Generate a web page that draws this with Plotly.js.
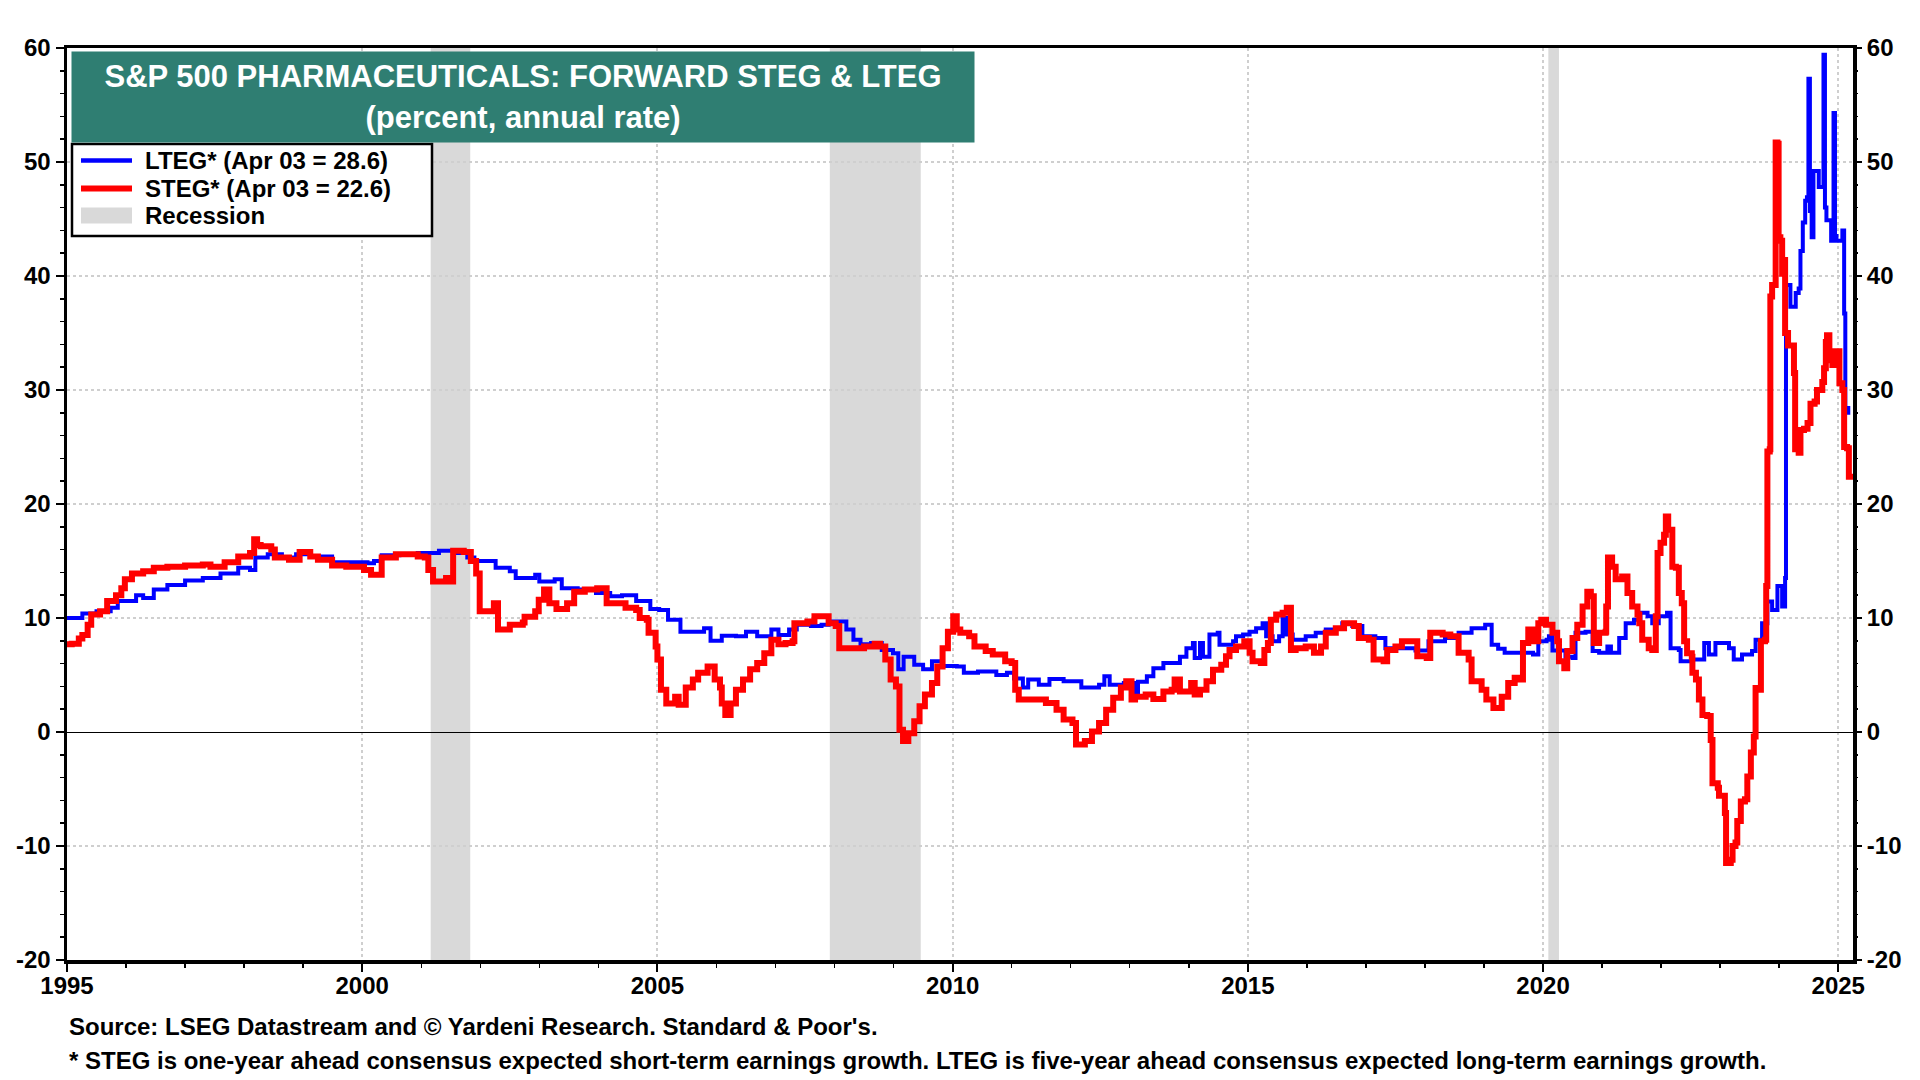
<!DOCTYPE html>
<html>
<head>
<meta charset="utf-8">
<script src="https://cdn.plot.ly/plotly-3.0.1.min.js"></script>
<style>html,body{margin:0;padding:0;background:#fff;}#chart{width:1920px;height:1080px;}</style>
</head>
<body>
<div id="chart"></div>
<script>
// ---------------- DATA ----------------
const ltegX = [1995.0,1995.08,1995.26,1995.5,1995.74,1995.86,1996.17,1996.29,1996.47,1996.7,1997.0,1997.3,1997.6,1997.9,1998.1,1998.19,1998.4,1998.64,1998.88,1999.12,1999.49,1999.73,2000.09,2000.2,2000.33,2000.63,2000.94,2001.3,2001.54,2001.78,2001.9,2002.14,2002.26,2002.5,2002.6,2002.93,2003.0,2003.26,2003.38,2003.65,2003.96,2004.2,2004.4,2004.64,2004.88,2005.03,2005.18,2005.39,2005.6,2005.79,2005.9,2006.09,2006.33,2006.5,2006.69,2006.93,2007.05,2007.23,2007.36,2007.6,2007.78,2007.9,2008.02,2008.2,2008.32,2008.44,2008.62,2008.8,2008.99,2009.08,2009.17,2009.35,2009.5,2009.65,2009.83,2010.07,2010.19,2010.43,2010.74,2010.92,2011.04,2011.19,2011.28,2011.46,2011.64,2011.88,2012.18,2012.48,2012.57,2012.66,2012.9,2013.08,2013.14,2013.29,2013.4,2013.57,2013.79,2013.85,2013.96,2014.07,2014.1,2014.19,2014.24,2014.35,2014.49,2014.52,2014.75,2014.8,2014.92,2015.03,2015.14,2015.25,2015.31,2015.42,2015.53,2015.59,2015.65,2015.76,2015.98,2016.15,2016.32,2016.49,2016.6,2016.77,2016.94,2017.16,2017.33,2017.61,2017.84,2018.06,2018.34,2018.57,2018.79,2019.02,2019.13,2019.24,2019.35,2019.58,2019.83,2019.92,2020.06,2020.1,2020.16,2020.38,2020.5,2020.55,2020.72,2020.84,2020.95,2021.09,2021.15,2021.29,2021.4,2021.54,2021.65,2021.77,2021.85,2021.96,2022.1,2022.16,2022.3,2022.33,2022.53,2022.67,2022.73,2022.81,2022.92,2023.15,2023.23,2023.37,2023.54,2023.6,2023.71,2023.8,2023.88,2023.97,2024.05,2024.1,2024.115,2024.19,2024.28,2024.33,2024.36,2024.4,2024.44,2024.47,2024.495,2024.52,2024.55,2024.58,2024.6,2024.67,2024.75,2024.775,2024.8,2024.88,2024.92,2024.945,2024.97,2025.07,2025.1,2025.12,2025.17,2025.25];
const ltegY = [10.0,10.0,10.4,10.6,10.9,11.5,12.0,11.75,12.5,12.9,13.3,13.5,13.9,14.4,14.2,15.3,15.6,15.3,15.6,15.4,14.9,14.9,14.8,15.0,15.5,15.6,15.7,15.9,15.7,15.3,15.0,15.0,14.4,14.1,13.5,13.8,13.2,13.4,12.6,12.5,12.2,11.9,12.0,11.5,10.8,10.7,9.85,8.8,8.8,9.1,8.0,8.45,8.4,8.8,8.4,9.0,8.5,9.0,9.4,9.3,9.4,9.7,9.7,9.0,8.1,7.7,7.8,7.2,6.9,5.5,6.6,5.9,5.5,6.2,5.8,5.75,5.2,5.3,5.0,5.2,4.7,3.9,4.6,4.15,4.65,4.45,3.9,4.15,4.9,4.15,4.3,3.4,4.4,4.9,5.6,6.05,6.05,6.6,7.35,7.8,6.5,7.8,6.6,8.55,8.7,7.65,7.95,8.4,8.55,8.8,9.1,9.55,8.4,7.95,8.4,10.0,8.55,8.1,8.4,8.7,9.0,9.1,9.55,9.3,8.4,8.25,7.35,7.35,7.15,7.95,8.25,8.7,9.1,9.4,7.65,7.3,6.95,6.95,6.8,7.95,8.1,8.4,7.15,6.6,6.5,8.7,8.8,7.1,6.95,7.5,6.95,8.25,9.55,9.85,10.45,10.15,9.55,10.15,10.45,7.35,7.2,6.2,6.35,6.35,7.8,6.8,7.8,7.35,6.35,6.8,7.1,8.1,9.55,11.45,10.7,12.8,11.0,13.5,39.2,37.3,38.5,38.9,42.2,44.7,46.6,46.9,57.3,45.7,43.4,49.2,49.2,47.8,59.4,46.0,44.9,43.1,54.3,43.5,43.1,44.0,36.7,28.0,28.6];

const stegX = [1995.0,1995.08,1995.2,1995.26,1995.35,1995.41,1995.56,1995.68,1995.83,1995.92,1995.98,1996.1,1996.29,1996.47,1996.7,1997.0,1997.3,1997.43,1997.67,1997.9,1998.1,1998.17,1998.22,1998.28,1998.46,1998.52,1998.76,1998.94,1999.12,1999.25,1999.49,1999.73,2000.03,2000.15,2000.3,2000.33,2000.57,2000.94,2001.06,2001.12,2001.2,2001.42,2001.52,2001.54,2001.72,2001.84,2001.93,2001.99,2002.2,2002.23,2002.3,2002.5,2002.72,2002.75,2002.93,2002.99,2003.08,2003.17,2003.29,2003.47,2003.59,2003.77,2003.98,2004.14,2004.4,2004.46,2004.64,2004.7,2004.82,2004.85,2004.97,2005.0,2005.06,2005.15,2005.3,2005.36,2005.48,2005.6,2005.69,2005.85,2005.9,2005.97,2006.06,2006.09,2006.15,2006.24,2006.33,2006.45,2006.57,2006.69,2006.81,2006.93,2007.05,2007.17,2007.29,2007.32,2007.54,2007.66,2007.78,2007.9,2008.02,2008.08,2008.26,2008.5,2008.68,2008.77,2008.86,2008.95,2009.04,2009.1,2009.16,2009.25,2009.35,2009.44,2009.53,2009.65,2009.74,2009.83,2009.92,2010.01,2010.07,2010.13,2010.28,2010.37,2010.56,2010.68,2010.8,2010.89,2011.0,2011.06,2011.12,2011.4,2011.58,2011.76,2011.88,2012.03,2012.09,2012.24,2012.36,2012.48,2012.6,2012.72,2012.85,2012.94,2013.03,2013.09,2013.27,2013.4,2013.57,2013.71,2013.76,2013.85,2014.04,2014.1,2014.19,2014.3,2014.41,2014.55,2014.63,2014.69,2014.8,2014.94,2015.03,2015.08,2015.22,2015.28,2015.34,2015.39,2015.48,2015.59,2015.66,2015.73,2015.81,2015.98,2016.12,2016.24,2016.32,2016.49,2016.63,2016.8,2016.88,2017.05,2017.13,2017.3,2017.36,2017.5,2017.61,2017.81,2017.87,2018.03,2018.09,2018.3,2018.43,2018.57,2018.74,2018.79,2018.96,2019.04,2019.16,2019.3,2019.41,2019.52,2019.61,2019.66,2019.75,2019.83,2019.92,2019.97,2020.05,2020.16,2020.24,2020.27,2020.36,2020.41,2020.5,2020.58,2020.67,2020.75,2020.81,2020.86,2020.95,2021.06,2021.07,2021.1,2021.17,2021.23,2021.34,2021.43,2021.51,2021.6,2021.63,2021.68,2021.79,2021.85,2021.91,2021.94,2021.99,2022.05,2022.08,2022.12,2022.16,2022.19,2022.25,2022.3,2022.35,2022.39,2022.44,2022.52,2022.53,2022.59,2022.64,2022.7,2022.78,2022.84,2022.87,2022.96,2022.98,2023.05,2023.08,2023.1,2023.18,2023.21,2023.26,2023.29,2023.35,2023.42,2023.46,2023.52,2023.57,2023.6,2023.66,2023.69,2023.76,2023.78,2023.8,2023.84,2023.85,2023.88,2023.93,2023.94,2023.97,2023.99,2024.02,2024.05,2024.08,2024.1,2024.15,2024.21,2024.25,2024.27,2024.33,2024.36,2024.42,2024.48,2024.53,2024.6,2024.64,2024.73,2024.76,2024.79,2024.81,2024.85,2024.9,2024.95,2025.0,2025.02,2025.07,2025.1,2025.15,2025.18,2025.25];
const stegY = [7.7,7.75,8.2,8.5,9.4,10.3,10.6,11.5,12.0,12.6,13.4,13.9,14.1,14.4,14.5,14.6,14.7,14.5,14.9,15.4,15.7,16.9,16.4,16.3,16.0,15.3,15.1,15.8,15.4,15.1,14.6,14.5,14.2,13.8,13.8,15.3,15.6,15.4,15.3,14.2,13.2,13.5,13.2,15.9,15.8,15.0,13.9,10.6,10.6,11.3,9.0,9.4,9.6,10.1,10.6,11.6,12.5,11.3,10.8,11.3,12.3,12.5,12.6,11.3,11.3,10.9,10.7,10.0,9.85,8.7,7.5,6.35,3.7,2.5,3.1,2.4,3.9,4.6,5.2,5.75,5.75,4.6,3.9,2.5,1.5,2.5,3.7,4.6,5.5,6.05,6.9,8.1,7.7,7.8,7.95,9.55,9.7,10.15,10.15,9.55,9.3,7.35,7.35,7.5,7.75,7.5,6.35,4.6,4.0,0.2,-0.8,-0.1,0.95,2.25,3.3,4.3,5.75,7.35,8.8,10.15,9.0,8.7,8.4,7.5,7.1,6.8,6.8,6.2,6.05,3.7,2.85,2.85,2.55,1.95,1.1,0.8,-1.1,-0.8,0.05,0.8,1.95,3.0,3.9,4.45,2.85,3.1,3.3,2.9,3.55,3.7,4.6,3.55,4.3,3.3,3.7,4.45,5.45,5.9,6.65,7.2,7.5,7.95,6.95,6.2,6.05,7.2,7.8,9.85,10.3,10.45,10.9,7.2,7.35,7.5,6.95,7.5,8.7,9.1,9.55,9.3,8.25,8.1,6.35,6.2,7.2,7.5,7.95,7.95,6.65,6.5,8.7,8.55,8.4,6.95,6.35,4.45,3.7,2.85,2.1,3.1,4.3,4.75,4.6,7.8,9.0,7.95,9.55,9.85,9.4,8.7,7.95,6.2,5.6,7.1,8.25,9.4,11.0,12.3,11.9,7.8,8.7,8.8,11.0,15.3,14.5,13.4,13.65,12.2,11.0,10.3,9.55,8.1,7.35,7.2,10.15,15.7,16.6,17.3,18.9,17.75,17.75,14.5,14.4,12.2,11.3,7.95,6.9,6.6,5.2,4.6,2.85,1.5,1.4,-0.7,-4.5,-4.9,-5.6,-5.6,-7.1,-11.5,-11.2,-10.0,-9.7,-7.8,-6.1,-5.9,-3.9,-1.8,-0.4,3.85,3.7,7.95,8.1,12.8,24.6,24.8,38.2,39.2,39.2,51.7,51.6,43.4,43.1,40.2,41.4,35.0,33.9,33.9,31.5,24.8,24.5,26.5,26.6,27.1,28.8,29.0,30.0,30.7,31.9,34.2,34.8,32.6,32.2,33.4,33.4,30.6,30.0,25.0,24.9,22.4,22.6];

const recessionStart = [2001.16, 2007.92, 2020.09];
const recessionEnd   = [2001.83, 2009.46, 2020.27];

const xTickVals = [1995, 2000, 2005, 2010, 2015, 2020, 2025];
const xTickText = ['1995', '2000', '2005', '2010', '2015', '2020', '2025'];
const yTickVals = [-20, -10, 0, 10, 20, 30, 40, 50, 60];
const yTickText = ['-20', '-10', '0', '10', '20', '30', '40', '50', '60'];

const seriesNames = ['LTEG* (Apr 03 = 28.6)', 'STEG* (Apr 03 = 22.6)', 'Recession'];
const titleText = 'S&P 500 PHARMACEUTICALS: FORWARD STEG & LTEG<br>(percent, annual rate)';
const footLine1 = 'Source: LSEG Datastream and © Yardeni Research. Standard & Poor\'s.';
const footLine2 = '* STEG is one-year ahead consensus expected short-term earnings growth. LTEG is five-year ahead consensus expected long-term earnings growth.';

// ---------------- CHART ----------------
const FONT = 'Liberation Sans, Arial, Helvetica, sans-serif';
const W = 1920, H = 1080;
const M = {l: 67, r: 67, t: 48, b: 120};
const PW = W - M.l - M.r, PH = H - M.t - M.b;
const px = v => (v - M.l) / PW;          // pixel x -> paper
const py = v => 1 - (v - M.t) / PH;      // pixel y -> paper

const BLUE = '#0000FF', RED = '#FF0000', GREY = '#D9D9D9';

const traces = [
  {x: ltegX, y: ltegY, type: 'scatter', mode: 'lines', name: seriesNames[0],
   line: {color: BLUE, width: 4, shape: 'hv'}, showlegend: false},
  {x: stegX, y: stegY, type: 'scatter', mode: 'lines', name: seriesNames[1],
   line: {color: RED, width: 6, shape: 'hv'}, showlegend: false},
  {x: [1995], y: [0], yaxis: 'y2', type: 'scatter', mode: 'markers',
   marker: {opacity: 0}, showlegend: false, hoverinfo: 'skip'}
];

const shapes = recessionStart.map((s, i) => ({
  type: 'rect', xref: 'x', yref: 'paper', x0: s, x1: recessionEnd[i], y0: 0, y1: 1,
  fillcolor: GREY, line: {width: 0}, layer: 'below'
}));

// legend (box, swatches) in pixel positions
const legBox = {x0: 72, x1: 432, y0: 144, y1: 236};
const rowY = [160.5, 188.5, 215.5];
const swX0 = 81, swX1 = 132, textX = 143;
shapes.push({type: 'rect', xref: 'paper', yref: 'paper', x0: px(legBox.x0), x1: px(legBox.x1),
  y0: py(legBox.y1), y1: py(legBox.y0), fillcolor: '#FFFFFF', line: {color: '#000', width: 2.5}, layer: 'above'});
shapes.push({type: 'line', xref: 'paper', yref: 'paper', x0: px(swX0), x1: px(swX1), y0: py(rowY[0]), y1: py(rowY[0]),
  line: {color: BLUE, width: 4.5}, layer: 'above'});
shapes.push({type: 'line', xref: 'paper', yref: 'paper', x0: px(swX0), x1: px(swX1), y0: py(rowY[1]), y1: py(rowY[1]),
  line: {color: RED, width: 6}, layer: 'above'});
shapes.push({type: 'rect', xref: 'paper', yref: 'paper', x0: px(swX0), x1: px(swX1), y0: py(rowY[2] + 8), y1: py(rowY[2] - 8),
  fillcolor: GREY, line: {width: 0}, layer: 'above'});

const tickFont = {family: FONT, size: 24, color: '#000', weight: 'bold'};
const yCommon = {
  range: [-20, 60], tickmode: 'array', tickvals: yTickVals, ticktext: yTickText,
  ticks: 'outside', ticklen: 8, tickwidth: 2, tickcolor: '#000',
  minor: {tickmode: 'linear', tick0: -20, dtick: 2, ticks: 'outside', ticklen: 4, tickwidth: 1.5, tickcolor: '#000', showgrid: false},
  tickfont: tickFont, fixedrange: true
};

const legendFont = {family: FONT, size: 24, color: '#000', weight: 'bold'};
const annotations = [
  {xref: 'paper', yref: 'paper', x: px(71), y: py(51), xanchor: 'left', yanchor: 'top',
   width: 902, height: 90, bgcolor: '#2F7E72', borderpad: 0, showarrow: false,
   align: 'center', valign: 'middle', text: titleText,
   font: {family: FONT, size: 31, color: '#FFFFFF', weight: 'bold'}},
  {xref: 'paper', yref: 'paper', x: px(67), y: py(1026), xanchor: 'left', yanchor: 'middle',
   showarrow: false, align: 'left', text: footLine1,
   font: {family: FONT, size: 24, color: '#000', weight: 'bold'}},
  {xref: 'paper', yref: 'paper', x: px(67), y: py(1060), xanchor: 'left', yanchor: 'middle',
   showarrow: false, align: 'left', text: footLine2,
   font: {family: FONT, size: 24, color: '#000', weight: 'bold'}}
];
seriesNames.forEach((n, i) => annotations.push({
  xref: 'paper', yref: 'paper', x: px(textX), y: py(rowY[i]), xanchor: 'left', yanchor: 'middle',
  showarrow: false, align: 'left', text: n, font: legendFont
}));

const layout = {
  width: W, height: H, margin: M,
  paper_bgcolor: '#fff', plot_bgcolor: '#fff',
  font: {family: FONT, color: '#000'},
  showlegend: false,
  xaxis: {
    range: [1995, 2025.25], tickmode: 'array', tickvals: xTickVals, ticktext: xTickText,
    ticks: 'outside', ticklen: 8, tickwidth: 2, tickcolor: '#000', ticklabelstandoff: -6,
    minor: {tickmode: 'linear', tick0: 1995, dtick: 1, ticks: 'outside', ticklen: 4, tickwidth: 1.5, tickcolor: '#000', showgrid: false},
    showgrid: true, gridcolor: '#CFCFCF', gridwidth: 2, griddash: 'dot',
    showline: true, linecolor: '#000', linewidth: 3.5, mirror: true,
    zeroline: false, tickfont: tickFont, fixedrange: true
  },
  yaxis: Object.assign({}, yCommon, {
    side: 'left', showgrid: true, gridcolor: '#CFCFCF', gridwidth: 2, griddash: 'dot',
    showline: true, linecolor: '#000', linewidth: 3.5, mirror: true,
    zeroline: true, zerolinecolor: '#000', zerolinewidth: 1
  }),
  yaxis2: Object.assign({}, yCommon, {
    overlaying: 'y', side: 'right', showgrid: false, zeroline: false, showline: false
  }),
  shapes: shapes,
  annotations: annotations
};

Plotly.newPlot('chart', traces, layout, {displayModeBar: false, staticPlot: true});
</script>
</body>
</html>
